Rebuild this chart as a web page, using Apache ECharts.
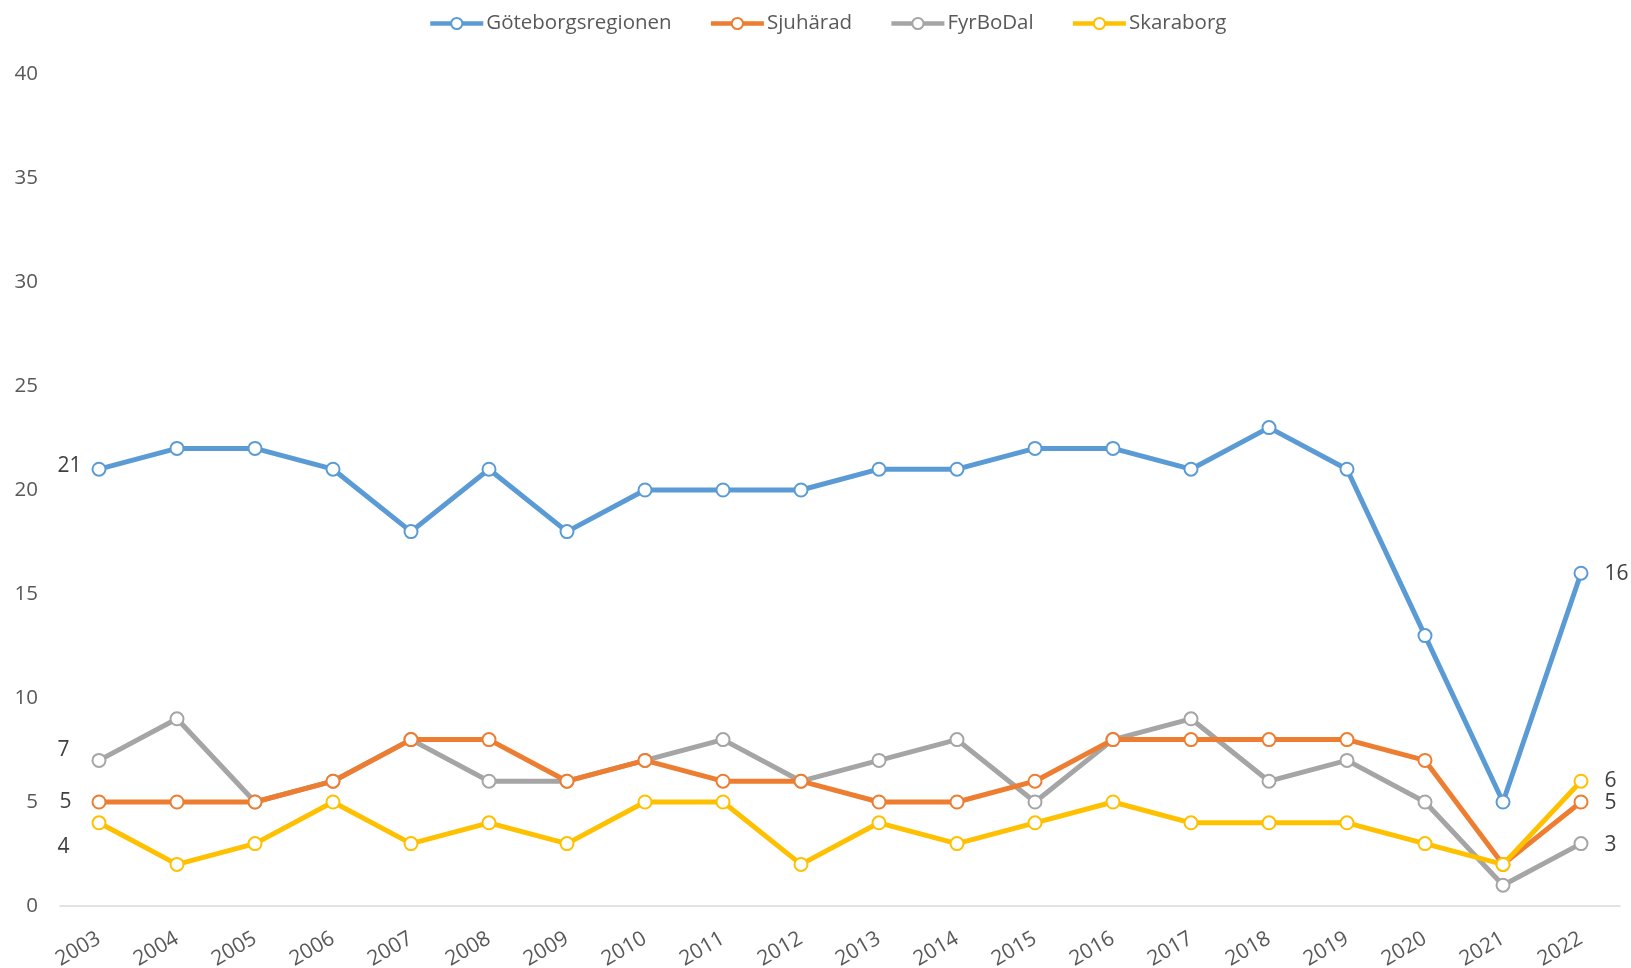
<!DOCTYPE html>
<html>
<head>
<meta charset="utf-8">
<script src="https://cdn.jsdelivr.net/npm/echarts@6/dist/echarts.min.js"></script>
<style>html,body{margin:0;padding:0;background:#fff}#c{width:1631px;height:968px}</style>
</head>
<body>
<div id="c"></div>
<script>
const years = ['2003','2004','2005','2006','2007','2008','2009','2010','2011','2012','2013','2014','2015','2016','2017','2018','2019','2020','2021','2022'];
const goteborg = [21,22,22,21,18,21,18,20,20,20,21,21,22,22,21,23,21,13,5,16];
const sjuharad = [5,5,5,6,8,8,6,7,6,6,5,5,6,8,8,8,8,7,2,5];
const fyrbodal = [7,9,5,6,8,6,6,7,8,6,7,8,5,8,9,6,7,5,1,3];
const skaraborg = [4,2,3,5,3,4,3,5,5,2,4,3,4,5,4,4,4,3,2,6];
const yTicks = [0,5,10,15,20,25,30,35,40];

const FONT = 'Open Sans';
const labelColor = '#404040';

function mk(name, values, color, firstOffset, lastOffset, firstDist, z) {
  const n = values.length;
  const data = values.map((v, i) => {
    if (i === 0) return {value: v, label: {show: true, position: 'left', distance: firstDist, offset: firstOffset}};
    if (i === n - 1) return {value: v, label: {show: true, position: 'right', distance: 16, offset: lastOffset}};
    return v;
  });
  return {
    name, type: 'line', data, z,
    symbol: 'circle', symbolSize: 13,
    lineStyle: {color, width: 5},
    itemStyle: {color: '#fff', borderColor: color, borderWidth: 2},
    label: {show: false, color: labelColor, fontSize: 21, fontFamily: FONT},
    emphasis: {disabled: true},
    animation: false
  };
}

const chart = echarts.init(document.getElementById('c'), null, {renderer: 'canvas'});
chart.setOption({
  animation: false,
  color: ['#5B9BD5', '#ED7D31', '#A5A5A5', '#FFC000'],
  legend: {
    top: 8, left: 423,
    itemWidth: 53, itemHeight: 14, itemGap: 37,
    lineStyle: {width: 4.5},
    textStyle: {color: '#595959', fontSize: 20.5, fontFamily: FONT, padding: [0, 0, 0, -2]},
    data: ['Göteborgsregionen', 'Sjuhärad', 'FyrBoDal', 'Skaraborg']
  },
  grid: {left: 60, right: 11, top: 74, bottom: 62, containLabel: false, outerBoundsMode: 'none'},
  xAxis: {
    type: 'category', data: years, boundaryGap: true,
    axisLine: {lineStyle: {color: '#D9D9D9', width: 1.5}},
    axisTick: {show: false},
    axisLabel: {rotate: 30, margin: 31, color: '#595959', fontSize: 21, fontFamily: FONT, interval: 0}
  },
  yAxis: {
    type: 'value', min: yTicks[0], max: yTicks[yTicks.length - 1], interval: 5,
    axisLine: {show: false}, axisTick: {show: false},
    splitLine: {show: false},
    axisLabel: {margin: 22, color: '#595959', fontSize: 20.5, fontFamily: FONT}
  },
  series: [
    mk('Göteborgsregionen', goteborg, '#5B9BD5', [0, -3], [0, 1], 10, 5),
    mk('Sjuhärad', sjuharad, '#ED7D31', [0, 0], [0, 1], 20, 3),
    mk('FyrBoDal', fyrbodal, '#A5A5A5', [0, -10], [0, 1], 22, 2),
    mk('Skaraborg', skaraborg, '#FFC000', [0, 24], [0, 0], 22, 4)
  ]
});
</script>
</body>
</html>
